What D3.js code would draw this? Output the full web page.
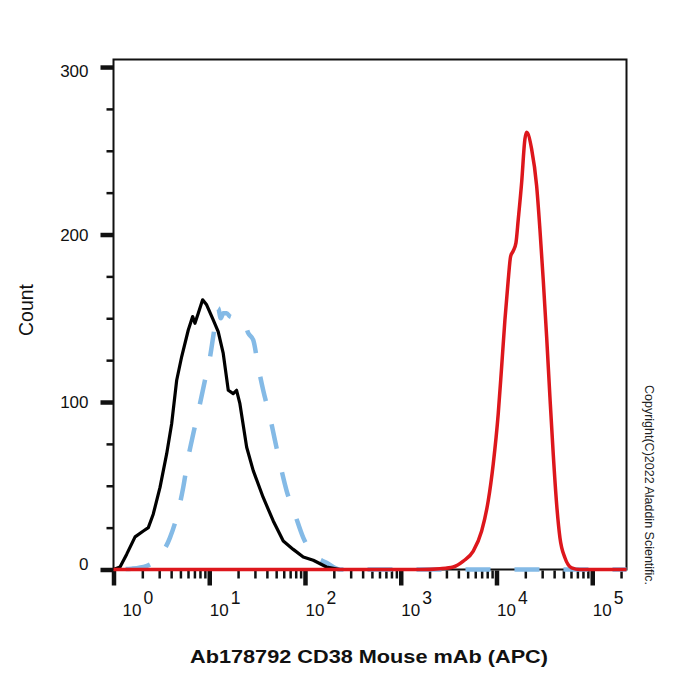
<!DOCTYPE html>
<html>
<head>
<meta charset="utf-8">
<script src="https://cdn.jsdelivr.net/npm/d3@7"></script>
<style>
  body { margin: 0; background: #fff; }
  svg { font-family: "Liberation Sans", Arial, sans-serif; }
</style>
</head>
<body>
<div id="chart"></div>
<script>
// histogram overlays, values (x = fluorescence, y = count)
const blackX = [1.0, 1.17, 1.37, 1.68, 2.05, 2.31, 2.6, 3.06, 3.59, 4.05, 4.57, 5.15, 6.04, 6.71, 7.09, 7.68, 8.53, 9.39, 11.0, 12.4, 14.0, 15.8, 17.8, 19.3, 20.9, 24.6, 28.8, 36.6, 46.6, 59.3, 75.4, 95.9, 122, 168, 232];
const blackY = [0, 1.5, 9, 19.5, 23, 25, 33, 49, 69, 87, 113, 127, 143, 151, 147, 153, 161, 158, 149, 142, 129, 107, 105, 107, 99, 73, 59, 43, 29, 17, 12, 7.5, 5.5, 1.5, 0];

const blueX = [1.0, 1.55, 2.2, 2.93, 3.89, 4.75, 5.35, 6.04, 6.81, 8.0, 9.02, 10.2, 11.0, 12.4, 13.2, 14.0, 15.2, 16.5, 19.5, 22.7, 25.6, 28.8, 32.5, 36.6, 43.1, 48.6, 57.0, 64.3, 78.5, 95.9, 122, 168, 232, 228000];
const blueY = [0, 0.5, 2, 7, 19, 35, 49, 67, 81, 99, 113, 127, 139, 156, 150, 153, 153, 151, 150, 149, 141, 137, 121, 107, 91, 77, 59, 47, 33, 19, 9, 4, 0, 0];

const redX = [1, 1587, 2570, 3530, 4500, 5720, 7000, 8200, 9250, 10430, 11320, 12250, 13270, 14050, 14900, 15970, 16880, 18310, 19820, 20650, 23290, 26260, 28430, 30780, 33400, 36160, 39140, 42480, 46000, 51860, 60940, 74390, 228000];
const redY = [0, 0, 0.5, 1.5, 5, 11, 23, 41, 63, 93, 121, 149, 173, 187, 190, 195, 209, 231, 257, 261, 251, 229, 203, 173, 139, 103, 69, 39, 19, 7, 1, 0, 0];

const xDecades = [0, 1, 2, 3, 4, 5];
const yMajor = [0, 100, 200, 300];
const yMinor = [25, 50, 75, 125, 150, 175, 225, 250, 275];

const xTitle = "Ab178792 CD38 Mouse mAb (APC)";
const yTitle = "Count";
const copyright = "Copyright(C)2022 Aladdin Scientific.";

const width = 700, height = 700;
const margin = { top: 59.5, right: 73.5, bottom: 130.5, left: 113.5 };

const svg = d3.select("#chart").append("svg")
  .attr("width", width)
  .attr("height", height);

const x = d3.scaleLog()
  .domain([1, 228000])
  .range([margin.left, width - margin.right]);

const y = d3.scaleLinear()
  .domain([0, 304.5])
  .range([height - margin.bottom, margin.top]);

// minor x ticks: 2..9 of each decade
let xMinor = [];
for (let e = 0; e <= 5; e++) {
  for (let k = 2; k <= 9; k++) {
    let v = k * Math.pow(10, e);
    if (v <= 228000) xMinor.push(v);
  }
}

// frame
svg.append("rect")
  .attr("x", x.range()[0])
  .attr("y", y.range()[1])
  .attr("width", x.range()[1] - x.range()[0])
  .attr("height", y.range()[0] - y.range()[1])
  .attr("fill", "none")
  .attr("stroke", "#111")
  .attr("stroke-width", 2);

// y axis ticks
const yMinorAxis = svg.append("g")
  .attr("transform", `translate(${margin.left},0)`)
  .call(d3.axisLeft(y).tickValues(yMinor).tickSize(7).tickFormat(""));
yMinorAxis.select(".domain").remove();
yMinorAxis.selectAll("line").attr("stroke", "#111").attr("stroke-width", 2.5);

const yMajorAxis = svg.append("g")
  .attr("transform", `translate(${margin.left},0)`)
  .call(d3.axisLeft(y).tickValues(yMajor).tickSize(13).tickPadding(12).tickFormat(d3.format("d")));
yMajorAxis.select(".domain").remove();
yMajorAxis.selectAll("line").attr("stroke", "#111").attr("stroke-width", 4.5);
yMajorAxis.selectAll("text")
  .attr("fill", "#111")
  .attr("font-size", 17)
  .attr("font-family", "Liberation Sans, Arial, sans-serif")
  .attr("dy", (d) => d === 0 ? "-0.02em" : d === 300 ? "0.55em" : "0.35em");

// x axis ticks
const xMinorAxis = svg.append("g")
  .attr("transform", `translate(0,${y(0) + 1})`)
  .call(d3.axisBottom(x).tickValues(xMinor).tickSize(8).tickFormat(""));
xMinorAxis.select(".domain").remove();
xMinorAxis.selectAll("line").attr("stroke", "#111").attr("stroke-width", 2.5);

const xMajorAxis = svg.append("g")
  .attr("transform", `translate(0,${y(0) + 1})`)
  .call(d3.axisBottom(x).tickValues(xDecades.map((e) => Math.pow(10, e))).tickSize(15).tickFormat(""));
xMajorAxis.select(".domain").remove();
xMajorAxis.selectAll("line").attr("stroke", "#111").attr("stroke-width", 4.5);

// decade labels as 10 with superscript, left aligned at the tick
const xLabels = svg.append("g")
  .attr("font-size", 17)
  .attr("fill", "#111");
xDecades.forEach((e, i) => {
  let t = xLabels.append("text")
    .attr("x", x(Math.pow(10, e)) + (i === 0 ? 9 : 0.5))
    .attr("y", y(0) + 46);
  t.append("tspan").text("10");
  t.append("tspan").attr("dx", 2).attr("dy", -12).attr("font-size", 17.5).text(e);
});

// curves
const line = d3.line()
  .x((d) => x(d[0]))
  .y((d) => y(d[1]));

const bluePath = svg.append("path")
  .datum(d3.zip(blueX, blueY))
  .attr("fill", "none")
  .attr("stroke", "#84bae6")
  .attr("stroke-width", 4.5)
  .attr("stroke-dasharray", "25,24")
  .attr("d", line.curve(d3.curveMonotoneX));

// line the dashes on the flat tail up with the picture (a dash starts near x = 465)
let total = bluePath.node().getTotalLength();
let sAt465 = total - (x.range()[1] - 465);
bluePath.attr("stroke-dashoffset", ((-sAt465 % 49) + 49) % 49);

svg.append("path")
  .datum(d3.zip(blackX, blackY))
  .attr("fill", "none")
  .attr("stroke", "#000")
  .attr("stroke-width", 3.2)
  .attr("stroke-linejoin", "round")
  .attr("d", line.curve(d3.curveLinear));

svg.append("path")
  .datum(d3.zip(redX, redY))
  .attr("fill", "none")
  .attr("stroke", "#dd171c")
  .attr("stroke-width", 3.5)
  .attr("stroke-linejoin", "round")
  .attr("d", line.curve(d3.curveMonotoneX));

// titles
svg.append("text")
  .attr("x", 369)
  .attr("y", 663)
  .attr("text-anchor", "middle")
  .attr("font-size", 19)
  .attr("font-weight", "bold")
  .attr("fill", "#111")
  .attr("textLength", 358)
  .attr("lengthAdjust", "spacingAndGlyphs")
  .text(xTitle);

svg.append("text")
  .attr("transform", "translate(33,310) rotate(-90)")
  .attr("text-anchor", "middle")
  .attr("font-size", 19.5)
  .attr("fill", "#111")
  .text(yTitle);

svg.append("text")
  .attr("transform", "translate(645,485) rotate(90)")
  .attr("text-anchor", "middle")
  .attr("font-size", 12.5)
  .attr("fill", "#222")
  .text(copyright);
</script>
</body>
</html>
